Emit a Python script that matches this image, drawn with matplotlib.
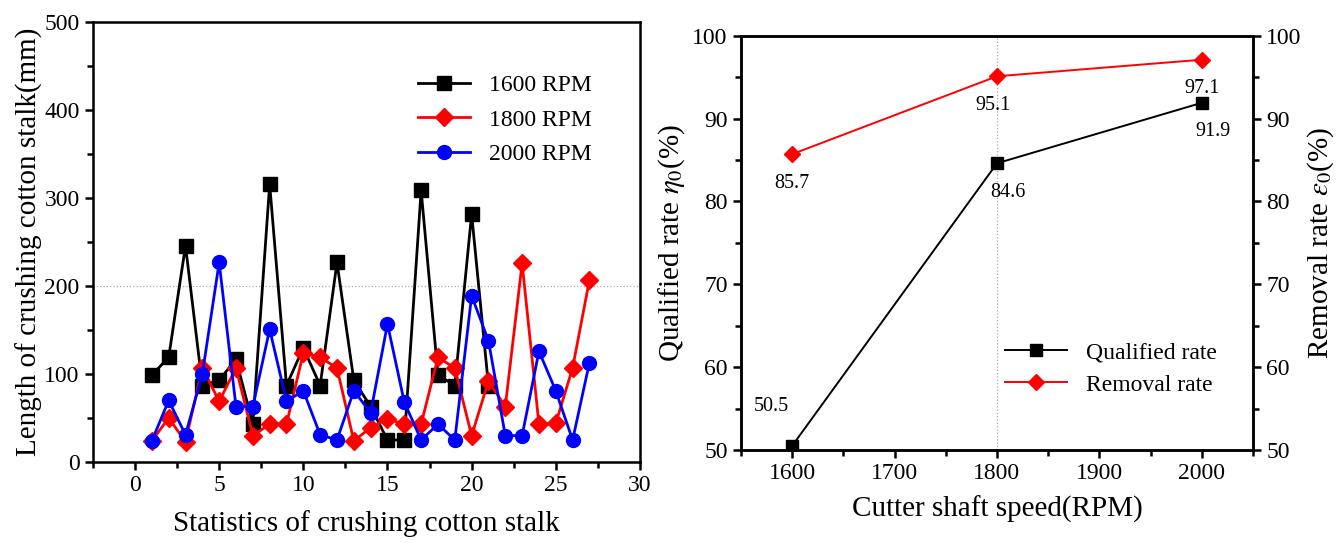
import matplotlib
matplotlib.use("Agg")
import matplotlib.pyplot as plt
from matplotlib.ticker import MultipleLocator

plt.rcParams['font.family'] = ['Liberation Serif', 'DejaVu Serif']
plt.rcParams['mathtext.fontset'] = 'stix'

# left panel: crushed stalk length per sample
n_1600 = list(range(1, 22))
len_1600 = [99, 119, 246, 87, 93, 117, 43, 316, 87, 130, 87, 227, 93, 63, 25, 25,
            309, 99, 87, 282, 87]
n_1800 = list(range(1, 28))
len_1800 = [24, 50, 23, 107, 69, 107, 30, 43, 43, 124, 119, 107, 24, 39, 49, 43,
            43, 119, 107, 30, 92, 63, 226, 43, 44, 107, 207]
n_2000 = list(range(1, 28))
len_2000 = [24, 70, 31, 100, 227, 63, 63, 151, 69, 81, 31, 25, 81, 56, 157, 68,
            25, 43, 25, 189, 138, 30, 30, 126, 81, 25, 113]

# right panel: rates vs cutter shaft speed
speed = [1600, 1800, 2000]
qualified = [50.5, 84.6, 91.9]
removal = [85.7, 95.1, 97.1]

fig = plt.figure(figsize=(13.43, 5.43), dpi=100)
ax1 = fig.add_axes([0.0692, 0.1492, 0.4073, 0.8094])
ax2 = fig.add_axes([0.5517, 0.1713, 0.3813, 0.7630])

# ---- left panel
ax1.axhline(200, color='#aaaaaa', linestyle=':', linewidth=0.9, zorder=0)
ax1.plot(n_1600, len_1600, 'k-', marker='s', markersize=9.5, linewidth=2,
         label='1600 RPM')
ax1.plot(n_1800, len_1800, '-', color='#ff0000', marker='D', markersize=9,
         linewidth=2, label='1800 RPM')
ax1.plot(n_2000, len_2000, '-', color='#0000ff', marker='o', markersize=10,
         linewidth=2, label='2000 RPM')
ax1.set_xlim(-2.5, 30)
ax1.set_ylim(0, 500)
ax1.xaxis.set_major_locator(MultipleLocator(5))
ax1.xaxis.set_minor_locator(MultipleLocator(2.5))
ax1.yaxis.set_major_locator(MultipleLocator(100))
ax1.yaxis.set_minor_locator(MultipleLocator(50))
ax1.set_xlabel("Statistics of crushing cotton stalk", fontsize=21, labelpad=10)
ax1.set_ylabel("Length of crushing cotton stalk(mm)", fontsize=21, labelpad=1)
ax1.legend(loc='upper right', bbox_to_anchor=(0.95, 0.93), frameon=False,
           fontsize=17, handlelength=2.2, labelspacing=0.55)

# ---- right panel
ax2.axvline(1800, color='#aaaaaa', linestyle=':', linewidth=0.9, zorder=0)
l1, = ax2.plot(speed, qualified, 'k-', marker='s', markersize=8.5, linewidth=1.4,
               label='Qualified rate')
ax3 = ax2.twinx()
l2, = ax3.plot(speed, removal, '-', color='#ff0000', marker='D', markersize=8.5,
               linewidth=1.4, label='Removal rate')
ax2.set_xlim(1550, 2050)
for ax in (ax2, ax3):
    ax.set_ylim(50, 100)
    ax.yaxis.set_major_locator(MultipleLocator(10))
    ax.yaxis.set_minor_locator(MultipleLocator(5))
ax2.xaxis.set_major_locator(MultipleLocator(100))
ax2.xaxis.set_minor_locator(MultipleLocator(50))
ax2.set_xlabel("Cutter shaft speed(RPM)", fontsize=21, labelpad=8)
ax2.set_ylabel(r"Qualified rate $\eta_0$(%)", fontsize=21, labelpad=4)
ax3.set_ylabel(r"Removal rate $\varepsilon_0$(%)", fontsize=21, labelpad=3)

# value labels
offsets_q = [(-15, 28), (8, -21), (8, -21)]
offsets_r = [(0, -21), (-3, -21), (0, -21)]
for x, y, off in zip(speed, qualified, offsets_q):
    ax2.annotate(f"{y}", (x, y), xytext=off, textcoords='offset points',
                 ha='center', va='center', fontsize=14.5)
for x, y, off in zip(speed, removal, offsets_r):
    ax3.annotate(f"{y}", (x, y), xytext=off, textcoords='offset points',
                 ha='center', va='center', fontsize=14.5)

ax3.legend([l1, l2], ['Qualified rate', 'Removal rate'], loc='lower right',
           bbox_to_anchor=(0.97, 0.08), frameon=False, fontsize=17,
           handlelength=2.6, labelspacing=0.45)

for ax in (ax1, ax2, ax3):
    for s in ax.spines.values():
        s.set_linewidth(1.8)
    ax.tick_params(which='both', direction='out', width=1.8, labelsize=17)
    ax.tick_params(which='major', length=6)
    ax.tick_params(which='minor', length=4)
ax1.tick_params(which='both', top=False, right=False)
ax2.tick_params(which='both', top=False, right=False)
ax3.tick_params(which='both', top=False, left=False)

fig.savefig("out.png", dpi=100)
